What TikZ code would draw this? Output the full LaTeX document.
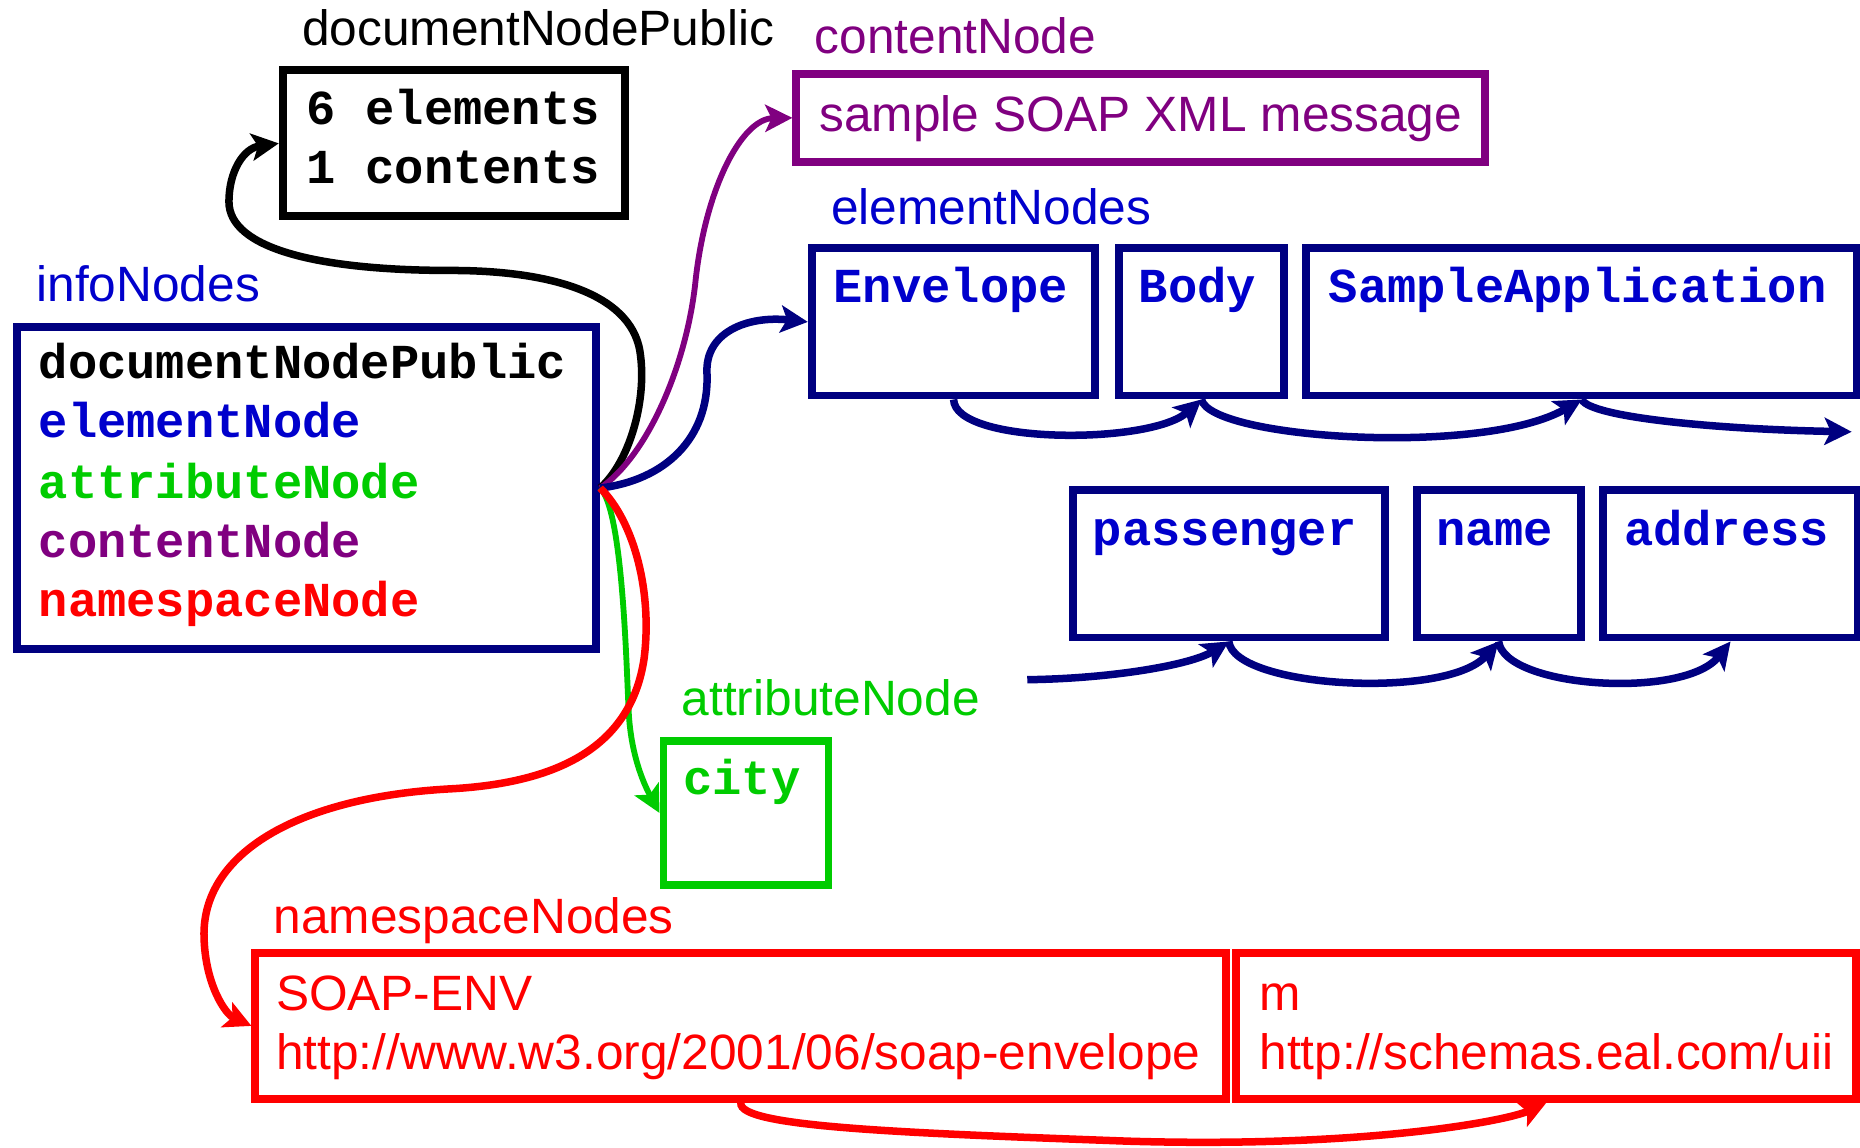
\documentclass[tikz,border=0pt]{standalone}
\usepackage{fontspec}
\setmainfont{Liberation Sans}
\newfontfamily\codefont{Liberation Mono}
\usetikzlibrary{arrows.meta}

\definecolor{navybox}{RGB}{0,0,128}
\definecolor{nodeblue}{RGB}{0,0,204}
\definecolor{nodegreen}{RGB}{0,204,0}
\definecolor{nodepurple}{RGB}{128,0,128}
\definecolor{nodered}{RGB}{255,0,0}

\tikzset{
  nodebox/.style={draw, line width=1.9pt, inner sep=0pt, anchor=north west},
  codetext/.style={inner sep=0pt, font=\codefont\bfseries\fontsize{11.7pt}{14pt}\selectfont},
  plaintext/.style={inner sep=0pt, font=\fontsize{11.9pt}{14pt}\selectfont},
  link/.style={line width=1.8pt, -{Stealth[length=6.5pt,width=6.5pt,inset=1.5pt]}},
}

\begin{document}
\begin{tikzpicture}[x=0.01cm, y=-0.01cm]
\useasboundingbox (0,0) rectangle (1568,967);

% boxes
\node[nodebox, minimum width=2.88cm, minimum height=1.23cm] (doc) at (235,56) {};
\node[nodebox, nodepurple, minimum width=5.80cm, minimum height=0.74cm] (content) at (668,59) {};
\node[nodebox, navybox, minimum width=2.39cm, minimum height=1.24cm] (env) at (681,206) {};
\node[nodebox, navybox, minimum width=1.39cm, minimum height=1.24cm] (body) at (940,206) {};
\node[nodebox, navybox, minimum width=4.64cm, minimum height=1.24cm] (sample) at (1098,206) {};
\node[nodebox, navybox, minimum width=4.88cm, minimum height=2.72cm] (info) at (11,272) {};
\node[nodebox, navybox, minimum width=2.63cm, minimum height=1.24cm] (passenger) at (901,410) {};
\node[nodebox, navybox, minimum width=1.38cm, minimum height=1.24cm] (name) at (1191,410) {};
\node[nodebox, navybox, minimum width=2.15cm, minimum height=1.24cm] (address) at (1348,410) {};
\node[nodebox, nodegreen, minimum width=1.39cm, minimum height=1.22cm] (city) at (556,621) {};
\node[nodebox, nodered, minimum width=8.18cm, minimum height=1.23cm] (soap) at (212,800) {};
\node[nodebox, nodered, minimum width=5.22cm, minimum height=1.23cm] (m) at (1039,800) {};

% group labels
\node[plaintext, anchor=base west] (docLabel) at (254,38) {documentNodePublic};
\node[plaintext, anchor=base west, text=nodepurple] (contentLabel) at (686,45) {contentNode};
\node[plaintext, anchor=base west, text=nodeblue] (elemLabel) at (700,189) {elementNodes};
\node[plaintext, anchor=base west, text=nodeblue] (infoLabel) at (30,254) {infoNodes};
\node[plaintext, anchor=base west, text=nodegreen] (attrLabel) at (574,603) {attributeNode};
\node[plaintext, anchor=base west, text=nodered] (nsLabel) at (230,787) {namespaceNodes};

% box texts
\node[codetext, anchor=base west] (docA) at (258,105) {6 elements};
\node[codetext, anchor=base west] (docB) at (258,155) {1 contents};
\node[plaintext, anchor=base west, text=nodepurple] (contentText) at (690,111) {sample SOAP XML message};
\node[codetext, anchor=base, text=nodeblue] (envText) at (801.5,255) {Envelope};
\node[codetext, anchor=base, text=nodeblue] (bodyText) at (1009.5,255) {Body};
\node[codetext, anchor=base, text=nodeblue] (sampleText) at (1330,255) {SampleApplication};
\node[codetext, anchor=base west] (infoA) at (32,319) {documentNodePublic};
\node[codetext, anchor=base west, text=nodeblue] (infoB) at (32,369) {elementNode};
\node[codetext, anchor=base west, text=nodegreen] (infoC) at (32,420) {attributeNode};
\node[codetext, anchor=base west, text=nodepurple] (infoD) at (32,470) {contentNode};
\node[codetext, anchor=base west, text=nodered] (infoE) at (32,520) {namespaceNode};
\node[codetext, anchor=base, text=nodeblue] (passText) at (1032.5,460) {passenger};
\node[codetext, anchor=base, text=nodeblue] (nameText) at (1260,460) {name};
\node[codetext, anchor=base, text=nodeblue] (addrText) at (1455.5,460) {address};
\node[codetext, anchor=base, text=nodegreen] (cityText) at (625.5,670) {city};
\node[plaintext, anchor=base west, text=nodered] (soapA) at (232,852) {SOAP-ENV};
\node[plaintext, anchor=base west, text=nodered] (soapB) at (232,902) {http://www.w3.org/2001/06/soap-envelope};
\node[plaintext, anchor=base west, text=nodered] (mA) at (1061,852) {m};
\node[plaintext, anchor=base west, text=nodered] (mB) at (1061,902) {http://schemas.eal.com/uii};

% free ends
\coordinate (appEnd) at (1561,364);
\coordinate (passIn) at (866,573);

% links from infoNodes
\draw[link] (info.east) .. controls (530,390) and (545,340) .. (540,300)
  .. controls (535,250) and (470,228) .. (380,228)
  .. controls (270,228) and (193,210) .. (193,170)
  .. controls (193,145) and (205,125) .. (doc.west);
\draw[link, nodepurple, line width=1.4pt] (info.east) .. controls (545,385) and (578,310) .. (586,240)
  .. controls (594,160) and (625,100) .. (content.west);
\draw[link, navybox] (info.east) .. controls (560,405) and (598,370) .. (596,315)
  .. controls (594,280) and (630,266) .. (env.west);
\draw[link, nodegreen, line width=1.4pt] (info.east) .. controls (525,430) and (528,560) .. (530,600)
  .. controls (532,640) and (545,665) .. (city.west);
\draw[link, nodered] (info.east) .. controls (535,440) and (550,500) .. (543,555)
  .. controls (532,630) and (470,660) .. (380,665)
  .. controls (250,672) and (170,720) .. (172,790)
  .. controls (173,830) and (190,855) .. (soap.west);

% element chains
\draw[link, navybox] (env.south) .. controls (805,375) and (970,375) .. (body.south);
\draw[link, navybox] (body.south) .. controls (1020,370) and (1250,385) .. (sample.south);
\draw[link, navybox] (sample.south) .. controls (1340,352) and (1450,362) .. (appEnd);
\draw[link, navybox] (passIn) .. controls (940,572) and (1005,560) .. (passenger.south);
\draw[link, navybox] (passenger.south) .. controls (1040,580) and (1220,590) .. (name.south);
\draw[link, navybox] (name.south) .. controls (1268,580) and (1420,590) .. (address.south);

% namespace chain
\draw[link, nodered] (soap.south) .. controls (622,950) and (760,955) .. (950,962)
  .. controls (1150,968) and (1270,945) .. (m.south);
\end{tikzpicture}
\end{document}
